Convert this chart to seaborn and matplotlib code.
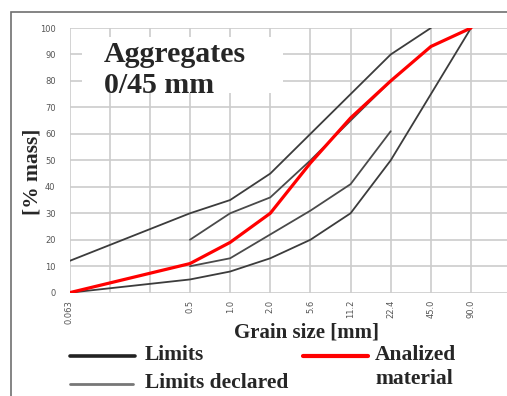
"""
Grading curve of aggregate 0/45 mm: limits, declared limits and analysed material.
"""

import numpy as np
import pandas as pd
import matplotlib.pyplot as plt
import seaborn as sns
from matplotlib.lines import Line2D
from matplotlib.patches import Rectangle

# sieve sizes in mm (two intermediate sieves carry no label)
SIEVES = ["0.063", "", "", "0.5", "1.0", "2.0", "5.6", "11.2", "22.4", "45.0", "90.0"]

# passing [% mass], None where a curve has no point
upper_limit = [12, None, None, 30, 35, 45, 60, 75, 90, 100, None]
lower_limit = [0, None, None, 5, 8, 13, 20, 30, 50, 75, 100]
declared_upper = [None, None, None, 20, 30, 36, 50, 65, 80, None, None]
declared_lower = [None, None, None, 10, 13, 22, 31, 41, 61, None, None]
analyzed = [0, None, None, 11, 19, 30, 49, 66, 80, 93, 100]

SERIF = "Liberation Serif"
W, H = 507, 396


def to_frame(values):
    """Long frame of (position, passing) with empty points dropped."""
    df = pd.DataFrame({"pos": np.arange(len(SIEVES)), "passing": values})
    return df.dropna()


sns.set_theme(style="whitegrid")
plt.rcParams["font.family"] = ["DejaVu Sans"]

fig = plt.figure(figsize=(W / 100, H / 100), dpi=100)
x0, x_step = 69.5, 40.15
y0, y100 = 292.7, 28.0
ax = fig.add_axes([x0 / W, (H - y0) / H, (W - x0) / W, (y0 - y100) / H])

# white box behind the title text hides the grid there
ax.add_patch(Rectangle((0.31, 75.4), 5.0, 21.2, facecolor="white",
                       edgecolor="none", zorder=1))

for values, color, lw in [
    (upper_limit, "#3c3c3c", 1.3),
    (lower_limit, "#3c3c3c", 1.3),
    (declared_upper, "#4a4a4a", 1.3),
    (declared_lower, "#4a4a4a", 1.3),
    (analyzed, "#ff0000", 2.3),
]:
    d = to_frame(values)
    sns.lineplot(data=d, x="pos", y="passing", color=color, lw=lw, ax=ax,
                 zorder=3 if color == "#ff0000" else 2)

ax.set_xlim(0, (W - x0) / x_step)
ax.set_ylim(0, 100)
ax.set_xticks(np.arange(len(SIEVES)))
ax.set_xticklabels(SIEVES, rotation=90, fontsize=6, color="#555555")
ax.set_yticks(np.arange(0, 101, 10))
ax.set_yticklabels([str(v) for v in range(0, 101, 10)], fontsize=6, color="#555555")
ax.tick_params(axis="x", length=0, pad=5)
ax.tick_params(axis="y", length=0, pad=10)
ax.grid(True, color="#cccccc", lw=1.2)
ax.set_xlabel("")
ax.set_ylabel("")
for s in ax.spines.values():
    s.set_visible(False)

fig.text(104 / W, 1 - 41 / H, "Aggregates\n0/45 mm", family=SERIF,
         fontweight="bold", fontsize=21.5, va="top", ha="left", linespacing=1.2)

fig.text(307 / W, 1 - 333 / H, "Grain size [mm]", family=SERIF,
         fontweight="bold", fontsize=15, ha="center", va="center")
fig.text(33 / W, 1 - 172 / H, "[% mass]", family=SERIF, fontweight="bold",
         fontsize=15.5, ha="center", va="center", rotation=90)

# hand-made legend below the axes
legend_items = [
    ((70, 135), 356, "#222222", 2.6, 145, "Limits"),
    ((70, 133), 384, "#777777", 2.0, 145, "Limits declared"),
    ((303, 368), 356, "#ff0000", 3.0, 375, "Analized\nmaterial"),
]
for (xa, xb), yl, color, lw, xt, label in legend_items:
    fig.add_artist(Line2D([xa / W, xb / W], [1 - yl / H, 1 - yl / H],
                          color=color, lw=lw, transform=fig.transFigure))
    fig.text(xt / W, 1 - (yl - 11) / H, label, family=SERIF, fontweight="bold",
             fontsize=15.5, ha="left", va="top", linespacing=1.25)

# outer frame, cut off at right and bottom
fig.patches.append(Rectangle((11 / W, -0.2), 1.2, 1.2 - 12 / H,
                             transform=fig.transFigure, fill=False,
                             edgecolor="#707070", lw=1.2))

fig.savefig("out.png", dpi=100)
